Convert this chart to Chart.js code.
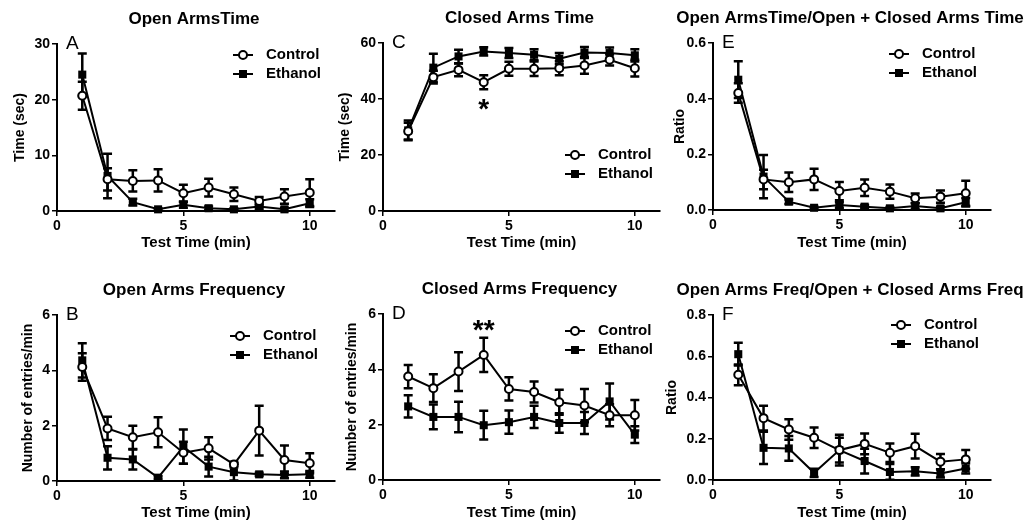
<!DOCTYPE html>
<html>
<head>
<meta charset="utf-8">
<script src="https://cdn.jsdelivr.net/npm/chart.js@4.4.0/dist/chart.umd.min.js"></script>
<style>
body { margin: 0; background: #fff; }
#wrap { position: relative; width: 1034px; height: 523px; overflow: hidden; }
canvas { position: absolute; }
</style>
</head>
<body>
<div id="wrap"></div>
<script>
/*-----data-----*/
var minutes = [1, 2, 3, 4, 5, 6, 7, 8, 9, 10];

// A - open arms time (sec)
var openTimeCtrl = [20.7, 5.7, 5.4, 5.5, 3.2, 4.2, 3.0, 1.8, 2.6, 3.3];
var openTimeCtrlErr = [2.5, 2.0, 1.9, 2.0, 1.5, 1.6, 1.2, 0.7, 1.3, 2.4];
var openTimeEth = [24.5, 6.3, 1.6, 0.3, 1.1, 0.5, 0.3, 0.8, 0.3, 1.4];
var openTimeEthErr = [3.8, 4.0, 0.6, 0.2, 0.5, 0.3, 0.2, 0.4, 0.3, 0.7];

// C - closed arms time (sec)
var closedTimeCtrl = [28.5, 47.8, 50.4, 46.0, 50.8, 50.8, 51.0, 52.0, 54.0, 51.0];
var closedTimeCtrlErr = [3.0, 2.3, 2.3, 2.5, 2.5, 2.6, 2.5, 3.0, 2.0, 3.0];
var closedTimeEth = [28.8, 51.2, 55.2, 57.0, 56.4, 55.8, 54.4, 56.6, 56.4, 55.6];
var closedTimeEthErr = [3.5, 5.0, 2.4, 1.5, 1.8, 2.0, 2.0, 2.0, 2.0, 2.2];

// E - open time / (open + closed) time
var timeRatioCtrl = [0.42, 0.11, 0.10, 0.11, 0.068, 0.08, 0.066, 0.042, 0.048, 0.06];
var timeRatioCtrlErr = [0.035, 0.035, 0.035, 0.038, 0.033, 0.03, 0.026, 0.017, 0.022, 0.045];
var timeRatioEth = [0.468, 0.12, 0.03, 0.008, 0.018, 0.012, 0.006, 0.014, 0.006, 0.028];
var timeRatioEthErr = [0.066, 0.078, 0.008, 0.004, 0.01, 0.006, 0.005, 0.01, 0.006, 0.015];

// B - open arms frequency (entries/min)
var openFreqCtrl = [4.12, 1.9, 1.58, 1.76, 1.02, 1.18, 0.6, 1.82, 0.76, 0.64];
var openFreqCtrlErr = [0.5, 0.42, 0.42, 0.54, 0.4, 0.4, 0.1, 0.9, 0.52, 0.36];
var openFreqEth = [4.36, 0.84, 0.78, 0.12, 1.24, 0.52, 0.32, 0.24, 0.22, 0.24];
var openFreqEthErr = [0.62, 0.42, 0.36, 0.05, 0.62, 0.36, 0.3, 0.06, 0.12, 0.12];

// D - closed arms frequency (entries/min)
var closedFreqCtrl = [3.74, 3.32, 3.92, 4.52, 3.29, 3.18, 2.81, 2.69, 2.34, 2.34];
var closedFreqCtrlErr = [0.42, 0.5, 0.7, 0.62, 0.42, 0.38, 0.45, 0.6, 0.4, 0.55];
var closedFreqEth = [2.66, 2.28, 2.28, 1.98, 2.09, 2.28, 2.06, 2.06, 2.84, 1.64];
var closedFreqEthErr = [0.4, 0.45, 0.55, 0.52, 0.42, 0.4, 0.35, 0.4, 0.65, 0.3];

// F - open freq / (open + closed) freq
var freqRatioCtrl = [0.51, 0.30, 0.245, 0.205, 0.145, 0.175, 0.132, 0.164, 0.089, 0.10];
var freqRatioCtrlErr = [0.05, 0.06, 0.05, 0.05, 0.06, 0.05, 0.045, 0.06, 0.037, 0.045];
var freqRatioEth = [0.61, 0.156, 0.153, 0.035, 0.145, 0.092, 0.039, 0.042, 0.032, 0.056];
var freqRatioEthErr = [0.055, 0.078, 0.06, 0.02, 0.075, 0.06, 0.038, 0.02, 0.02, 0.025];

// significance marks
var closedTimeStars = [{ x: 4, y: 38, text: '*' }];
var closedFreqStars = [{ x: 4, y: 5.6, text: '**' }];

var FONT = '"Liberation Sans", Arial, sans-serif';

/*-----panels-----*/
var panels = [
    { letter: 'A', title: 'Open ArmsTime', yTitle: 'Time (sec)', yMax: 30, yStep: 10, dec: 0,
      ctrl: openTimeCtrl, ctrlErr: openTimeCtrlErr, eth: openTimeEth, ethErr: openTimeEthErr, stars: [],
      left: 11, top: 0, width: 334, height: 262, yWidth: 46, xHeight: 51, padTop: 44, padRight: 10, xPad: 10,
      legend: { x: 176, y: 11 } },
    { letter: 'C', title: 'Closed Arms Time', yTitle: 'Time (sec)', yMax: 60, yStep: 20, dec: 0,
      ctrl: closedTimeCtrl, ctrlErr: closedTimeCtrlErr, eth: closedTimeEth, ethErr: closedTimeEthErr, stars: closedTimeStars,
      left: 336, top: 0, width: 330, height: 262, yWidth: 47, xHeight: 51, padTop: 43, padRight: 5, xPad: 10,
      legend: { x: 182, y: 112 } },
    { letter: 'E', title: 'Open ArmsTime/Open + Closed Arms Time', yTitle: 'Ratio', yMax: 0.6, yStep: 0.2, dec: 1,
      ctrl: timeRatioCtrl, ctrlErr: timeRatioCtrlErr, eth: timeRatioEth, ethErr: timeRatioEthErr, stars: [],
      left: 671, top: 0, width: 363, height: 262, yWidth: 42, xHeight: 52, padTop: 43, padRight: 43, xPad: 10,
      legend: { x: 176, y: 11 } },
    { letter: 'B', title: 'Open Arms Frequency', yTitle: 'Number of entries/min', yMax: 6, yStep: 2, dec: 0,
      ctrl: openFreqCtrl, ctrlErr: openFreqCtrlErr, eth: openFreqEth, ethErr: openFreqEthErr, stars: [],
      left: 19, top: 263, width: 326, height: 260, yWidth: 38, xHeight: 42, padTop: 52, padRight: 10, xPad: 1,
      legend: { x: 173, y: 21 } },
    { letter: 'D', title: 'Closed Arms Frequency', yTitle: 'Number of entries/min', yMax: 6, yStep: 2, dec: 0,
      ctrl: closedFreqCtrl, ctrlErr: closedFreqCtrlErr, eth: closedFreqEth, ethErr: closedFreqEthErr, stars: closedFreqStars,
      left: 343, top: 263, width: 323, height: 260, yWidth: 40, xHeight: 43, padTop: 51, padRight: 5, xPad: 1,
      legend: { x: 182, y: 17 } },
    { letter: 'F', title: 'Open Arms Freq/Open + Closed Arms Freq', yTitle: 'Ratio', yMax: 0.8, yStep: 0.2, dec: 1,
      ctrl: freqRatioCtrl, ctrlErr: freqRatioCtrlErr, eth: freqRatioEth, ethErr: freqRatioEthErr, stars: [],
      left: 663, top: 263, width: 371, height: 260, yWidth: 50, xHeight: 43, padTop: 52, padRight: 43, xPad: 1,
      legend: { x: 178, y: 10 } }
];

function toPoints(values) {
    var pts = [];
    for (var i = 0; i < minutes.length; i++) {
        pts.push({ x: minutes[i], y: values[i] });
    }
    return pts;
}

function drawMarker(ctx, kind, x, y) {
    ctx.save();
    ctx.lineWidth = 2;
    ctx.strokeStyle = '#000';
    if (kind === 'circle') {
        ctx.fillStyle = '#fff';
        ctx.beginPath();
        ctx.arc(x, y, 4, 0, Math.PI * 2);
        ctx.fill();
        ctx.stroke();
    } else {
        ctx.fillStyle = '#000';
        ctx.fillRect(x - 4, y - 4, 8, 8);
    }
    ctx.restore();
}

/*-----error bars under the markers-----*/
var errorBars = {
    id: 'errorBars',
    beforeDatasetsDraw: function(chart) {
        var ctx = chart.ctx;
        var yScale = chart.scales.y;
        ctx.save();
        ctx.strokeStyle = '#000';
        ctx.lineWidth = 2.5;
        chart.data.datasets.forEach(function(ds, di) {
            var meta = chart.getDatasetMeta(di);
            meta.data.forEach(function(pt, i) {
                var v = ds.data[i].y, e = ds.errors[i];
                var yTop = yScale.getPixelForValue(v + e);
                var yBot = yScale.getPixelForValue(Math.max(v - e, 0));
                ctx.beginPath();
                ctx.moveTo(pt.x, yTop); ctx.lineTo(pt.x, yBot);
                ctx.moveTo(pt.x - 4.5, yTop); ctx.lineTo(pt.x + 4.5, yTop);
                ctx.moveTo(pt.x - 4.5, yBot); ctx.lineTo(pt.x + 4.5, yBot);
                ctx.stroke();
            });
        });
        ctx.restore();
    }
};

/*-----titles, letters, legend, stars-----*/
var decorations = {
    id: 'decorations',
    afterDraw: function(chart) {
        var p = chart.options.plugins.decorations;
        var ctx = chart.ctx;
        var area = chart.chartArea;
        ctx.save();
        ctx.fillStyle = '#000';

        ctx.font = 'bold 17px ' + FONT;
        ctx.textAlign = 'center';
        ctx.textBaseline = 'middle';
        ctx.fillText(p.title, (area.left + area.right) / 2 - 2, area.top - 25);

        ctx.font = '19px ' + FONT;
        ctx.textAlign = 'left';
        ctx.textBaseline = 'alphabetic';
        ctx.fillText(p.letter, area.left + 9, area.top + 5);

        var names = ['Control', 'Ethanol'];
        var kinds = ['circle', 'rect'];
        ctx.font = 'bold 15px ' + FONT;
        ctx.textBaseline = 'middle';
        for (var i = 0; i < 2; i++) {
            var lx = area.left + p.legend.x;
            var ly = area.top + p.legend.y + i * 19;
            ctx.strokeStyle = '#000';
            ctx.lineWidth = 2;
            ctx.beginPath();
            ctx.moveTo(lx, ly); ctx.lineTo(lx + 20, ly);
            ctx.stroke();
            drawMarker(ctx, kinds[i], lx + 10, ly);
            ctx.fillText(names[i], lx + 33, ly);
        }

        ctx.font = 'bold 28px ' + FONT;
        ctx.textAlign = 'center';
        ctx.textBaseline = 'alphabetic';
        p.stars.forEach(function(s) {
            var m = ctx.measureText(s.text);
            var sx = chart.scales.x.getPixelForValue(s.x);
            var sy = chart.scales.y.getPixelForValue(s.y);
            ctx.fillText(s.text, sx, sy + (m.actualBoundingBoxAscent - m.actualBoundingBoxDescent) / 2);
        });
        ctx.restore();
    }
};

/*-----chart---------*/
function makePanel(p) {
    var canvas = document.createElement('canvas');
    canvas.width = p.width;
    canvas.height = p.height;
    canvas.style.left = p.left + 'px';
    canvas.style.top = p.top + 'px';
    document.getElementById('wrap').appendChild(canvas);

    new Chart(canvas.getContext('2d'), {
        type: 'line',
        data: {
            datasets: [{
                label: 'Control',
                data: toPoints(p.ctrl),
                errors: p.ctrlErr,
                borderColor: '#000',
                borderWidth: 2,
                pointStyle: 'circle',
                pointRadius: 4,
                pointBorderWidth: 2,
                pointBorderColor: '#000',
                pointBackgroundColor: '#fff',
                clip: false
            }, {
                label: 'Ethanol',
                data: toPoints(p.eth),
                errors: p.ethErr,
                borderColor: '#000',
                borderWidth: 2,
                pointStyle: 'rect',
                pointRadius: 5.7,
                pointBorderWidth: 0,
                pointBackgroundColor: '#000',
                clip: false
            }]
        },
        options: {
            responsive: false,
            animation: false,
            layout: { padding: { top: p.padTop, right: p.padRight, left: 0, bottom: 0 } },
            plugins: {
                legend: { display: false },
                title: { display: false },
                tooltip: { enabled: false },
                decorations: p
            },
            scales: {
                x: {
                    type: 'linear',
                    min: 0,
                    max: 11,
                    afterFit: function(s) { s.height = p.xHeight; },
                    border: { color: '#000', width: 2 },
                    grid: { drawOnChartArea: false, color: '#000', lineWidth: 1.5, tickLength: 5 },
                    ticks: { stepSize: 5, includeBounds: false, maxRotation: 0, padding: 2, color: '#000',
                             font: { family: FONT, size: 14, weight: 'bold' } },
                    title: { display: true, text: 'Test Time (min)', color: '#000',
                             font: { family: FONT, size: 15, weight: 'bold' }, padding: { top: 0, bottom: p.xPad } }
                },
                y: {
                    min: 0,
                    max: p.yMax,
                    afterFit: function(s) { s.width = p.yWidth; },
                    border: { color: '#000', width: 2 },
                    grid: { drawOnChartArea: false, color: '#000', lineWidth: 1.5, tickLength: 5 },
                    ticks: { stepSize: p.yStep, padding: 2, color: '#000',
                             font: { family: FONT, size: 14, weight: 'bold' },
                             callback: function(v) { return Number(v).toFixed(p.dec); } },
                    title: { display: true, text: p.yTitle, color: '#000',
                             font: { family: FONT, size: 14, weight: 'bold' }, padding: { top: 1, bottom: 0 } }
                }
            }
        },
        plugins: [errorBars, decorations]
    });
}

for (var i = 0; i < panels.length; i++) {
    makePanel(panels[i]);
}
</script>
</body>
</html>
